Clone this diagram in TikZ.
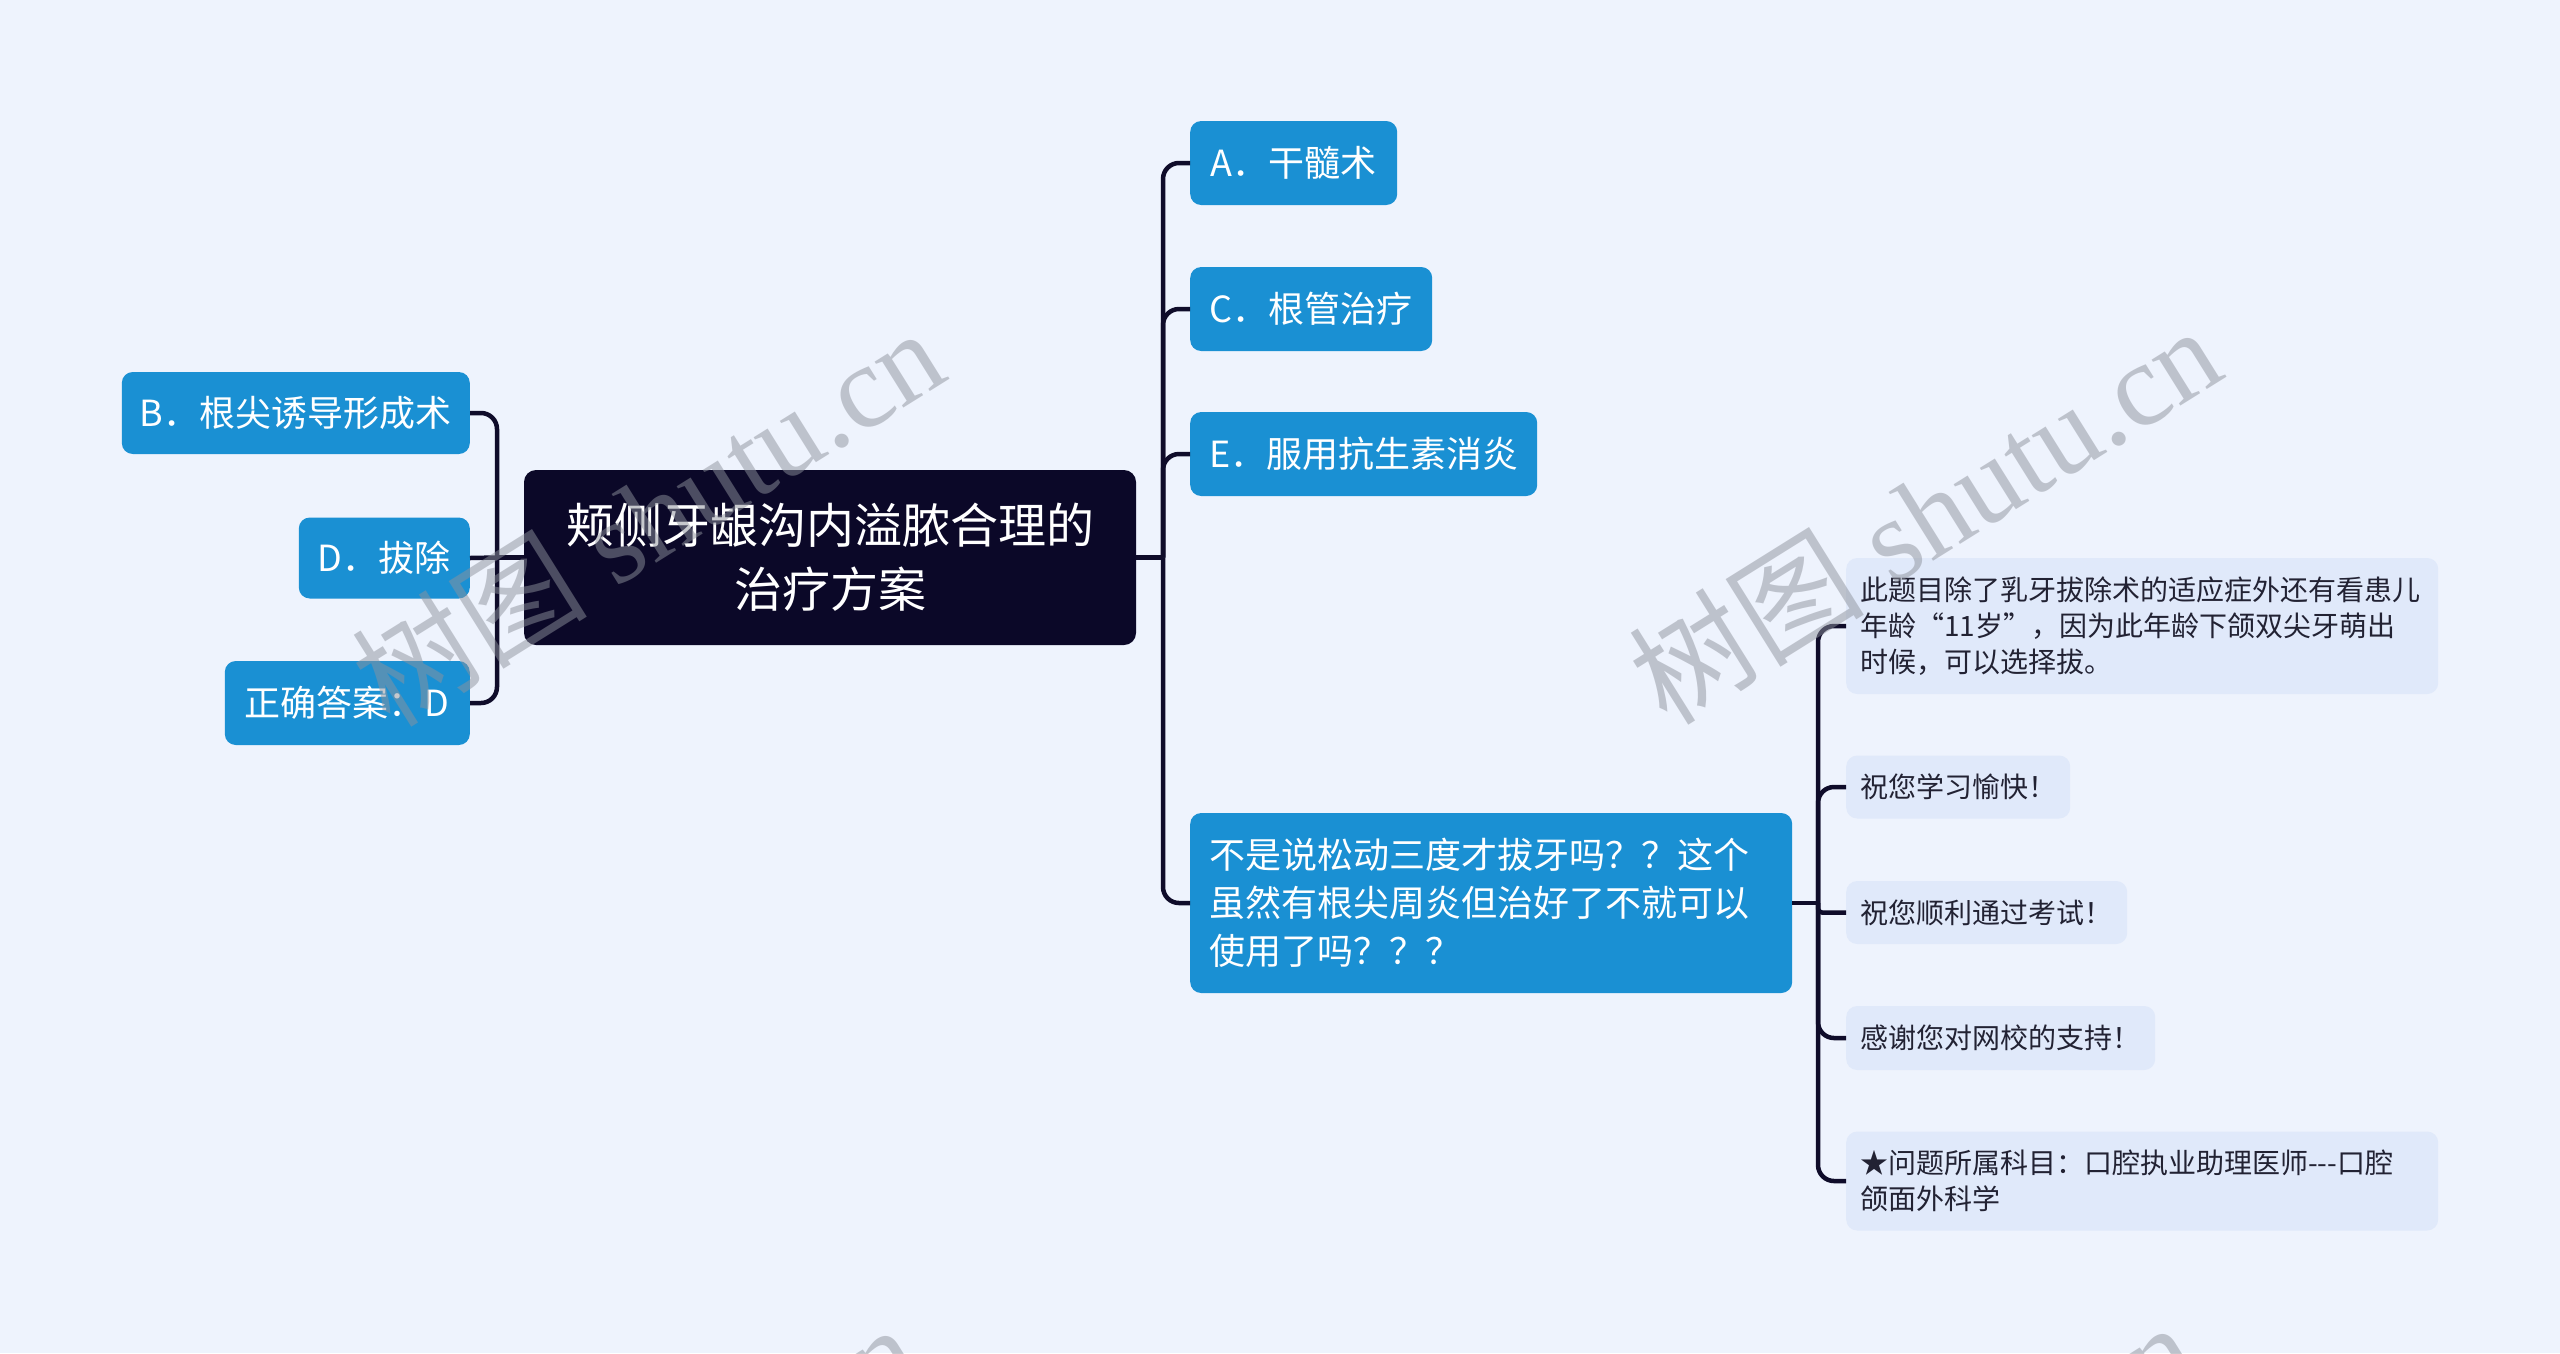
\documentclass[tikz,border=0pt]{standalone}
\usepackage{fontspec}
\setmainfont{Noto Sans CJK SC}
\newfontfamily\wmlatin{Liberation Serif}
\newfontfamily\wmcjk{Noto Sans CJK SC}
\definecolor{bgc}{HTML}{EEF3FD}
\definecolor{bluec}{HTML}{1A90D3}
\definecolor{rootc}{HTML}{0B0828}
\definecolor{linec}{HTML}{0F0C2A}
\definecolor{leafc}{HTML}{E0E9FA}
\definecolor{leaftext}{HTML}{222233}
\definecolor{wmc}{HTML}{8E929C}
\begin{document}
\begin{tikzpicture}[x=1pt,y=-1pt,
  rootbox/.style={fill=rootc, rounded corners=12pt, text=white, align=center,
    font=\fontsize{48}{64}\selectfont, inner sep=0pt, minimum width=612pt, minimum height=175pt},
  bluebox/.style={fill=bluec, rounded corners=11pt, text=white, inner xsep=18pt, inner ysep=0pt,
    font=\fontsize{36}{48}\selectfont},
  leafbox/.style={fill=leafc, rounded corners=11pt, text=leaftext, inner xsep=14pt, inner ysep=0pt,
    font=\fontsize{28}{36}\selectfont},
  conn/.style={draw=linec, line width=4.5pt},
  elbow/.style={conn, rounded corners=16pt},
  wm/.style={text=wmc, opacity=0.5, inner sep=0pt, rotate=32}
]
\useasboundingbox (0,0) rectangle (2560,1353);
\fill[bgc] (0,0) rectangle (2560,1353);

% root
\node[rootbox] (root) at (830,557.5) {颊侧牙龈沟内溢脓合理的\\治疗方案};

% left children
\node[bluebox, anchor=east, minimum width=348pt, minimum height=82pt] (B) at (470,413) {B．根尖诱导形成术};
\node[bluebox, anchor=east, minimum width=171pt, minimum height=81pt] (D) at (470,558) {D．拔除};
\node[bluebox, anchor=east, minimum width=245pt, minimum height=84pt] (Z) at (470,703) {正确答案：D};

% right children
\node[bluebox, anchor=west, minimum width=207pt, minimum height=84pt] (A) at (1190,163) {A．干髓术};
\node[bluebox, anchor=west, minimum width=242pt, minimum height=84pt] (C) at (1190,309) {C．根管治疗};
\node[bluebox, anchor=west, minimum width=347pt, minimum height=84pt] (E) at (1190,454) {E．服用抗生素消炎};
\node[bluebox, anchor=west, minimum width=602pt, minimum height=180pt, text width=564pt, align=left] (Q) at (1190,903)
  {不是说松动三度才拔牙吗？？这个\\虽然有根尖周炎但治好了不就可以\\使用了吗？？？};

% leaves
\node[leafbox, anchor=west, minimum width=592pt, minimum height=136pt, text width=564pt, align=left] (L1) at (1846,626)
  {此题目除了乳牙拔除术的适应症外还有看患儿\\年龄“11岁”，因为此年龄下颌双尖牙萌出\\时候，可以选择拔。};
\node[leafbox, anchor=west, minimum width=224pt, minimum height=63pt] (L2) at (1846,787) {祝您学习愉快！};
\node[leafbox, anchor=west, minimum width=281pt, minimum height=63pt] (L3) at (1846,912.5) {祝您顺利通过考试！};
\node[leafbox, anchor=west, minimum width=309pt, minimum height=64pt] (L4) at (1846,1038) {感谢您对网校的支持！};
\node[leafbox, anchor=west, minimum width=592pt, minimum height=99pt, text width=564pt, align=left] (L5) at (1846,1181)
  {★问题所属科目：口腔执业助理医师-{}-{}-口腔\\颌面外科学};

% trunks
\coordinate (lt) at (497,557.5);
\coordinate (rt) at (1163,557.5);
\coordinate (qt) at (1818,903);

\draw[conn] (root.west) -- (lt);
\draw[elbow] (lt) |- (B.east);
\draw[conn] (lt) -- (D.east);
\draw[elbow] (lt) |- (Z.east);

\draw[conn] (root.east) -- (rt);
\draw[elbow] (rt) |- (A.west);
\draw[elbow] (rt) |- (C.west);
\draw[elbow] (rt) |- (E.west);
\draw[elbow] (rt) |- (Q.west);

\draw[conn] (Q.east) -- (qt);
\draw[elbow] (qt) |- (L1.west);
\draw[elbow] (qt) |- (L2.west);
\draw[conn, rounded corners=4pt] (qt) |- (L3.west);
\draw[elbow] (qt) |- (L4.west);
\draw[elbow] (qt) |- (L5.west);

% watermarks
\begin{scope}
\clip (0,0) rectangle (2560,1353);
\node[wm] (wm1) at (647,516) {\fontsize{118}{118}\selectfont\wmcjk 树图\wmlatin\ shutu.cn};
\node[wm] (wm2) at (1924,514) {\fontsize{118}{118}\selectfont\wmcjk 树图\wmlatin\ shutu.cn};
\node[wm] (wm3) at (622,1512) {\fontsize{118}{118}\selectfont\wmcjk 树图\wmlatin\ shutu.cn};
\node[wm] (wm4) at (1899,1510) {\fontsize{118}{118}\selectfont\wmcjk 树图\wmlatin\ shutu.cn};
\end{scope}
\end{tikzpicture}
\end{document}
